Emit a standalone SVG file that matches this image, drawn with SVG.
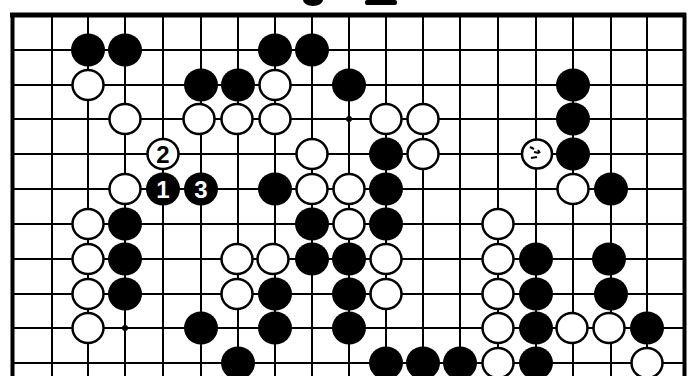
<svg xmlns="http://www.w3.org/2000/svg" width="693" height="376" viewBox="0 0 693 376">
<style>
.g{stroke:#000;stroke-width:2;fill:none}
.b{fill:#000}
.w{fill:#fff;stroke:#000;stroke-width:2.5}
.n{font-family:"Liberation Sans",Arial,sans-serif;font-weight:bold;font-size:24px;text-anchor:middle}
.nb{fill:#000}
.nw{fill:#fff}
</style>
<rect width="693" height="376" fill="#fff"/>
<g id="fragments">
<path d="M303 0 A10 6 0 0 0 323 0 Z" fill="#000"/>
<rect x="365" y="0" width="32" height="5" rx="2" fill="#000"/>
</g>
<g id="connectors">
<g class="g">
<path d="M12 50H684M12 85H684M12 119H684M12 154H684M12 189H684M12 224H684M12 259H684M12 294H684M12 328H684M12 363H684"/>
<path d="M52 15V376M88 15V376M125 15V376M163 15V376M201 15V376M238 15V376M275 15V376M312 15V376M349 15V376M386 15V376M423 15V376M460 15V376M498 15V376M536 15V376M573 15V376M611 15V376M647 15V376"/>
</g>
<path d="M10 15H686" stroke="#000" stroke-width="5"/>
<path d="M12.5 13V376" stroke="#000" stroke-width="4"/>
<path d="M684.5 13V376" stroke="#000" stroke-width="4"/>
<circle cx="349" cy="119" r="3" fill="#000"/>
<circle cx="125" cy="328" r="3" fill="#000"/>
</g>
<g id="black">
<g id="b-1-0"><ellipse class="b" cx="88" cy="50" rx="17" ry="16.5"/></g>
<g id="b-2-0"><ellipse class="b" cx="125" cy="50" rx="17" ry="16.5"/></g>
<g id="b-6-0"><ellipse class="b" cx="275" cy="50" rx="17" ry="16.5"/></g>
<g id="b-7-0"><ellipse class="b" cx="312" cy="50" rx="17" ry="16.5"/></g>
<g id="b-4-1"><ellipse class="b" cx="201" cy="85" rx="17" ry="16.5"/></g>
<g id="b-5-1"><ellipse class="b" cx="238" cy="85" rx="17" ry="16.5"/></g>
<g id="b-8-1"><ellipse class="b" cx="349" cy="85" rx="17" ry="16.5"/></g>
<g id="b-14-1"><ellipse class="b" cx="573" cy="85" rx="17" ry="16.5"/></g>
<g id="b-14-2"><ellipse class="b" cx="573" cy="119" rx="17" ry="16.5"/></g>
<g id="b-9-3"><ellipse class="b" cx="386" cy="154" rx="17" ry="16.5"/></g>
<g id="b-14-3"><ellipse class="b" cx="573" cy="154" rx="17" ry="16.5"/></g>
<g id="b-6-4"><ellipse class="b" cx="275" cy="189" rx="17" ry="16.5"/></g>
<g id="b-9-4"><ellipse class="b" cx="386" cy="189" rx="17" ry="16.5"/></g>
<g id="b-15-4"><ellipse class="b" cx="611" cy="189" rx="17" ry="16.5"/></g>
<g id="b-2-5"><ellipse class="b" cx="125" cy="224" rx="17" ry="16.5"/></g>
<g id="b-7-5"><ellipse class="b" cx="312" cy="224" rx="17" ry="16.5"/></g>
<g id="b-9-5"><ellipse class="b" cx="386" cy="224" rx="17" ry="16.5"/></g>
<g id="b-2-6"><ellipse class="b" cx="125" cy="259" rx="17" ry="16.5"/></g>
<g id="b-7-6"><ellipse class="b" cx="312" cy="259" rx="17" ry="16.5"/></g>
<g id="b-8-6"><ellipse class="b" cx="349" cy="259" rx="17" ry="16.5"/></g>
<g id="b-13-6"><ellipse class="b" cx="536" cy="259" rx="17" ry="16.5"/></g>
<g id="b-15-6"><ellipse class="b" cx="609" cy="259" rx="17" ry="16.5"/></g>
<g id="b-2-7"><ellipse class="b" cx="125" cy="294" rx="17" ry="16.5"/></g>
<g id="b-6-7"><ellipse class="b" cx="275" cy="294" rx="17" ry="16.5"/></g>
<g id="b-8-7"><ellipse class="b" cx="349" cy="294" rx="17" ry="16.5"/></g>
<g id="b-13-7"><ellipse class="b" cx="536" cy="294" rx="17" ry="16.5"/></g>
<g id="b-15-7"><ellipse class="b" cx="611" cy="294" rx="17" ry="16.5"/></g>
<g id="b-4-8"><ellipse class="b" cx="201" cy="328" rx="17" ry="16.5"/></g>
<g id="b-6-8"><ellipse class="b" cx="275" cy="328" rx="17" ry="16.5"/></g>
<g id="b-8-8"><ellipse class="b" cx="349" cy="328" rx="17" ry="16.5"/></g>
<g id="b-13-8"><ellipse class="b" cx="536" cy="328" rx="17" ry="16.5"/></g>
<g id="b-16-8"><ellipse class="b" cx="647" cy="328" rx="17" ry="16.5"/></g>
<g id="b-5-9"><ellipse class="b" cx="238" cy="363" rx="17" ry="16.5"/></g>
<g id="b-9-9"><ellipse class="b" cx="386" cy="363" rx="17" ry="16.5"/></g>
<g id="b-10-9"><ellipse class="b" cx="423" cy="363" rx="17" ry="16.5"/></g>
<g id="b-11-9"><ellipse class="b" cx="460" cy="363" rx="17" ry="16.5"/></g>
<g id="b-13-9"><ellipse class="b" cx="536" cy="363" rx="17" ry="16.5"/></g>
<g id="move1"><ellipse class="b" cx="163" cy="189" rx="17" ry="16.5"/><text class="n nw" x="163" y="197.5">1</text></g>
<g id="move3"><ellipse class="b" cx="201" cy="189" rx="17" ry="16.5"/><text class="n nw" x="201" y="197.5">3</text></g>
</g>
<g id="white">
<g id="w-1-1"><ellipse class="w" cx="88" cy="85" rx="15.5" ry="15"/></g>
<g id="w-6-1"><ellipse class="w" cx="275" cy="85" rx="15.5" ry="15"/></g>
<g id="w-2-2"><ellipse class="w" cx="125" cy="119" rx="15.5" ry="15"/></g>
<g id="w-4-2"><ellipse class="w" cx="199" cy="119" rx="15.5" ry="15"/></g>
<g id="w-5-2"><ellipse class="w" cx="237" cy="119" rx="15.5" ry="15"/></g>
<g id="w-6-2"><ellipse class="w" cx="275" cy="119" rx="15.5" ry="15"/></g>
<g id="w-9-2"><ellipse class="w" cx="386" cy="119" rx="15.5" ry="15"/></g>
<g id="w-10-2"><ellipse class="w" cx="423" cy="119" rx="15.5" ry="15"/></g>
<g id="w-7-3"><ellipse class="w" cx="312" cy="154" rx="15.5" ry="15"/></g>
<g id="w-10-3"><ellipse class="w" cx="423" cy="154" rx="15.5" ry="15"/></g>
<g id="w-13-3"><ellipse class="w" cx="537" cy="154" rx="15" ry="14.5"/><path d="M530 147l4 2M534 152l5 1M531 158l6-1M538 150l2 3" stroke="#000" stroke-width="2" fill="none"/></g>
<g id="w-2-4"><ellipse class="w" cx="125" cy="189" rx="15.5" ry="15"/></g>
<g id="w-7-4"><ellipse class="w" cx="312" cy="189" rx="15.5" ry="15"/></g>
<g id="w-8-4"><ellipse class="w" cx="349" cy="189" rx="15.5" ry="15"/></g>
<g id="w-14-4"><ellipse class="w" cx="573" cy="189" rx="15.5" ry="15"/></g>
<g id="w-1-5"><ellipse class="w" cx="88" cy="224" rx="15.5" ry="15"/></g>
<g id="w-8-5"><ellipse class="w" cx="349" cy="224" rx="15.5" ry="15"/></g>
<g id="w-12-5"><ellipse class="w" cx="498" cy="224" rx="15.5" ry="15"/></g>
<g id="w-1-6"><ellipse class="w" cx="88" cy="259" rx="15.5" ry="15"/></g>
<g id="w-5-6"><ellipse class="w" cx="237" cy="259" rx="15.5" ry="15"/></g>
<g id="w-6-6"><ellipse class="w" cx="273" cy="259" rx="15.5" ry="15"/></g>
<g id="w-9-6"><ellipse class="w" cx="386" cy="259" rx="15.5" ry="15"/></g>
<g id="w-12-6"><ellipse class="w" cx="498" cy="259" rx="15.5" ry="15"/></g>
<g id="w-1-7"><ellipse class="w" cx="88" cy="294" rx="15.5" ry="15"/></g>
<g id="w-5-7"><ellipse class="w" cx="237" cy="294" rx="15.5" ry="15"/></g>
<g id="w-9-7"><ellipse class="w" cx="386" cy="294" rx="15.5" ry="15"/></g>
<g id="w-12-7"><ellipse class="w" cx="498" cy="294" rx="15.5" ry="15"/></g>
<g id="w-1-8"><ellipse class="w" cx="88" cy="328" rx="15.5" ry="15"/></g>
<g id="w-12-8"><ellipse class="w" cx="498" cy="328" rx="15.5" ry="15"/></g>
<g id="w-14-8"><ellipse class="w" cx="572" cy="328" rx="15.5" ry="15"/></g>
<g id="w-15-8"><ellipse class="w" cx="609" cy="328" rx="15.5" ry="15"/></g>
<g id="w-12-9"><ellipse class="w" cx="498" cy="363" rx="15.5" ry="15"/></g>
<g id="w-16-9"><ellipse class="w" cx="647" cy="363" rx="15.5" ry="15"/></g>
<g id="move2"><ellipse class="w" cx="163" cy="154" rx="15.5" ry="15"/><text class="n nb" x="163" y="162.5">2</text></g>
</g>
</svg>
